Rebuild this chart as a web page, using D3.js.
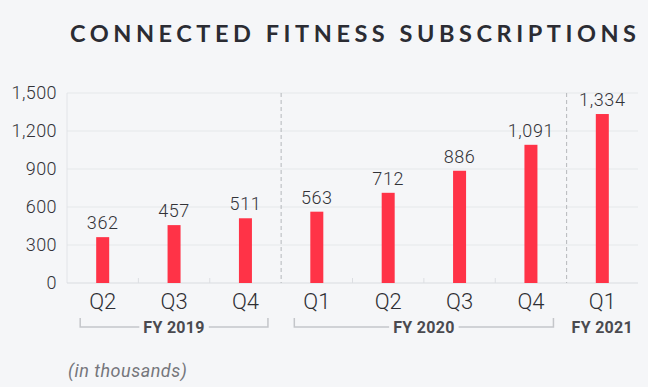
<!DOCTYPE html>
<meta charset="utf-8">
<style>
body { margin: 0; background: #f5f6f8; }
svg { display: block; }
text { font-family: Roboto, "Noto Sans", sans-serif; }
</style>
<svg width="648" height="387"></svg>
<script src="https://cdn.jsdelivr.net/npm/d3@7"></script>
<script>
// data
var quarters = ["Q2", "Q3", "Q4", "Q1", "Q2", "Q3", "Q4", "Q1"];
var subscriptions = [362, 457, 511, 563, 712, 886, 1091, 1334];
var fiscalYears = ["FY 2019", "FY 2020", "FY 2021"];
var yearStart = [0, 3, 7];   // first quarter index of each fiscal year
var yearEnd = [2, 6, 7];     // last quarter index
var yTicks = [0, 300, 600, 900, 1200, 1500];

var svg = d3.select("svg");
var plotL = 67, plotR = 638, plotT = 93, plotB = 283;

var x = d3.scaleBand()
    .domain(d3.range(quarters.length))
    .range([plotL, plotR]);

var y = d3.scaleLinear()
    .domain([0, 1500])
    .range([plotB, plotT]);

var fmt = d3.format(",");
var cx = function(i) { return x(i) + x.bandwidth() / 2; };

// title
svg.append("text")
    .attr("x", 70)
    .attr("y", 42)
    .attr("textLength", 566)
    .attr("lengthAdjust", "spacing")
    .style("font-family", "Lato, 'Open Sans', sans-serif")
    .style("font-weight", 700)
    .style("font-size", "23.5px")
    .style("fill", "#2b2c33")
    .text("CONNECTED FITNESS SUBSCRIPTIONS");

// gridlines
svg.append("g")
    .selectAll("line")
    .data(yTicks.slice(1))
    .enter().append("line")
    .attr("x1", plotL).attr("x2", plotR)
    .attr("y1", function(d) { return y(d); })
    .attr("y2", function(d) { return y(d); })
    .style("stroke", "#e5e7ea")
    .style("stroke-width", 1.2);

// left axis line
svg.append("line")
    .attr("x1", plotL).attr("x2", plotL)
    .attr("y1", y(1500)).attr("y2", y(0))
    .style("stroke", "#e2e4e8");

// y axis
var yAxis = svg.append("g")
    .attr("transform", "translate(" + plotL + ",0)")
    .call(d3.axisLeft(y).tickValues(yTicks).tickFormat(fmt).tickSize(0).tickPadding(10));
yAxis.select(".domain").remove();
yAxis.selectAll("text")
    .style("font-family", "Roboto, sans-serif")
    .style("font-size", "18px")
    .style("font-weight", 300)
    .style("letter-spacing", "0.4px")
    .style("fill", "#333338");

// baseline with small inner ticks at band boundaries
svg.append("line")
    .attr("x1", plotL).attr("x2", plotR)
    .attr("y1", y(0)).attr("y2", y(0))
    .style("stroke", "#d9dbdf")
    .style("stroke-width", 1.2);
svg.append("g")
    .selectAll("line")
    .data(d3.range(1, quarters.length).filter(function(i) { return yearStart.indexOf(i) < 0; }))
    .enter().append("line")
    .attr("x1", function(i) { return x(i); })
    .attr("x2", function(i) { return x(i); })
    .attr("y1", y(0)).attr("y2", y(0) - 5)
    .style("stroke", "#dcdee2");

// dashed year dividers
svg.append("g")
    .selectAll("line")
    .data(yearStart.slice(1))
    .enter().append("line")
    .attr("x1", function(i) { return x(i); })
    .attr("x2", function(i) { return x(i); })
    .attr("y1", y(1500)).attr("y2", y(0))
    .style("stroke", "#b5b7bb")
    .style("stroke-dasharray", "4,3");

// bars
var barW = 13;
svg.append("g")
    .selectAll("rect")
    .data(subscriptions)
    .enter().append("rect")
    .attr("x", function(d, i) { return cx(i) - barW / 2; })
    .attr("y", function(d) { return y(d); })
    .attr("width", barW)
    .attr("height", function(d) { return y(0) - y(d); })
    .style("fill", "#ff3347");

// value labels
svg.append("g")
    .selectAll("text")
    .data(subscriptions)
    .enter().append("text")
    .attr("x", function(d, i) { return cx(i); })
    .attr("y", function(d) { return y(d) - 8; })
    .attr("text-anchor", "middle")
    .style("font-size", "18px")
    .style("font-weight", 300)
    .style("letter-spacing", "0.6px")
    .style("fill", "#333338")
    .text(function(d) { return fmt(d); });

// quarter labels
svg.append("g")
    .selectAll("text")
    .data(quarters)
    .enter().append("text")
    .attr("x", function(d, i) { return cx(i); })
    .attr("y", 309)
    .attr("text-anchor", "middle")
    .style("font-size", "22px")
    .style("font-weight", 300)
    .style("fill", "#2e2e33")
    .text(function(d) { return d; });

// fiscal year groups
var bracketY = 327, gap = 4, ext = 22.5;
fiscalYears.forEach(function(fy, k) {
  var x0 = cx(yearStart[k]), x1 = cx(yearEnd[k]);
  var mid = (x0 + x1) / 2;
  var t = svg.append("text")
      .attr("x", mid)
      .attr("y", bracketY + 5.5)
      .attr("text-anchor", "middle")
      .style("font-size", "16px")
      .style("font-weight", 700)
      .style("letter-spacing", "0.3px")
      .style("fill", "#4a4a4f")
      .text(fy);
  if (yearEnd[k] > yearStart[k]) {
    var w = t.node().getComputedTextLength();
    var a = x0 - ext, b = x1 + ext;
    svg.append("path")
        .attr("d", "M" + a + "," + (bracketY - 9) + "V" + bracketY + "H" + (mid - w / 2 - gap) +
                   "M" + (mid + w / 2 + gap) + "," + bracketY + "H" + b + "V" + (bracketY - 9))
        .style("fill", "none")
        .style("stroke", "#c4c6ca")
        .style("stroke-width", 1.5);
  }
});

// unit note
svg.append("text")
    .attr("x", 68)
    .attr("y", 377)
    .style("font-size", "18px")
    .style("font-style", "italic")
    .style("letter-spacing", "0.5px")
    .style("fill", "#75767c")
    .text("(in thousands)");
</script>
